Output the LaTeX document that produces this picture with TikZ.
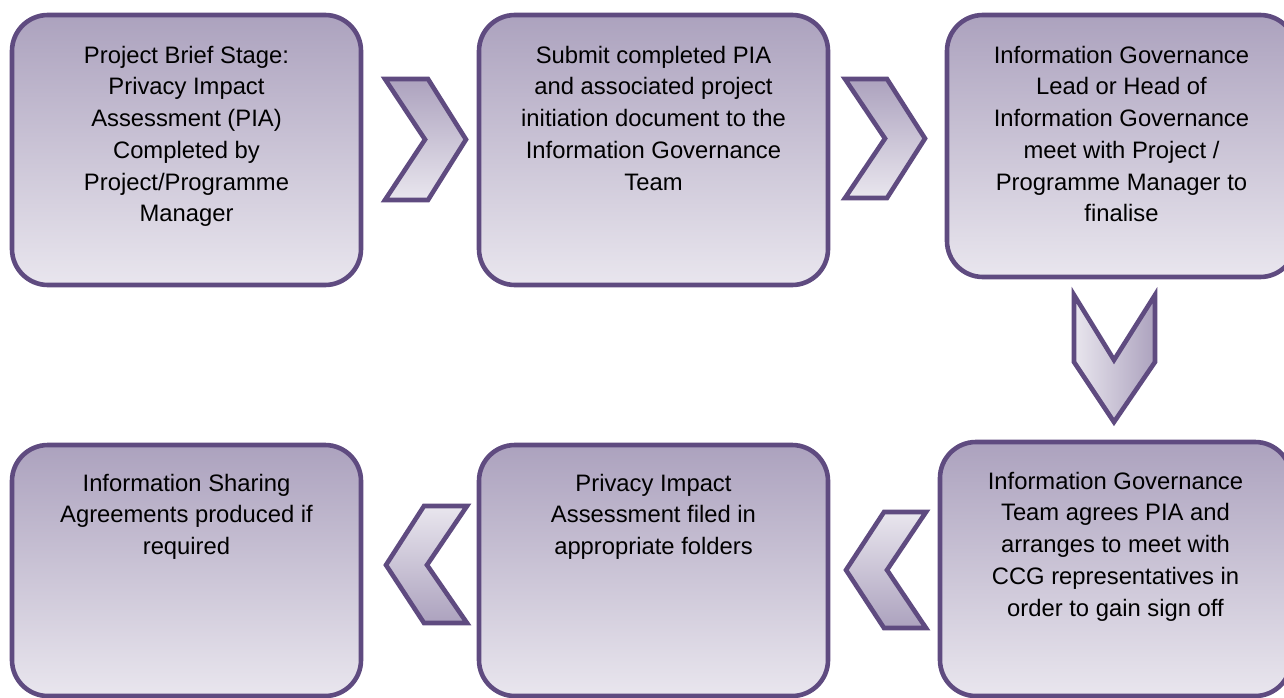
\documentclass[tikz,border=0pt]{standalone}
\usepackage{fontspec}
\setmainfont{Liberation Sans}
\definecolor{bord}{RGB}{95,75,128}
\definecolor{gdark}{RGB}{172,162,190}
\definecolor{glight}{RGB}{233,230,238}
\newcommand{\firststrut}{\rule{0pt}{18pt}}
\begin{document}
\begin{tikzpicture}[x=1pt,y=-1pt,
  box/.style={draw=bord, line width=4.6pt, rounded corners=36pt, top color=gdark, bottom color=glight,
              inner sep=0pt, outer sep=0pt, anchor=north west},
  chev/.style={draw=bord, line width=4.6pt, line join=miter},
  txt/.style={font=\fontsize{23.8}{31.7}\selectfont, align=center, anchor=north, inner sep=0pt, text=black}]
\useasboundingbox (0,0) rectangle (1284,698);
\clip (0,0) rectangle (1284,698);

% boxes
\node[box, minimum width=349pt, minimum height=270pt] (b1) at (12,15) {};
\node[box, minimum width=349pt, minimum height=270pt] (b2) at (479,15) {};
\node[box, minimum width=349pt, minimum height=262pt] (b3) at (947,15) {};
\node[box, minimum width=351pt, minimum height=254pt] (b4) at (940,442) {};
\node[box, minimum width=349pt, minimum height=251pt] (b5) at (479,445) {};
\node[box, minimum width=349pt, minimum height=251pt] (b6) at (12,445) {};

% texts
\node[txt] (t1) at ([yshift=-30pt]b1.north) {\firststrut Project Brief Stage:\\Privacy Impact\\Assessment (PIA)\\Completed by\\Project/Programme\\Manager};
\node[txt] (t2) at ([yshift=-30pt]b2.north) {\firststrut Submit completed PIA\\and associated project\\initiation document to the\\Information Governance\\Team};
\node[txt] (t3) at ([yshift=-30pt]b3.north) {\firststrut Information Governance\\Lead or Head of\\Information Governance\\meet with Project /\\Programme Manager to\\finalise};
\node[txt] (t4) at ([yshift=-29pt]b4.north) {\firststrut Information Governance\\Team agrees PIA and\\arranges to meet with\\CCG representatives in\\order to gain sign off};
\node[txt] (t5) at ([yshift=-28pt]b5.north) {\firststrut Privacy Impact\\Assessment filed in\\appropriate folders};
\node[txt] (t6) at ([yshift=-28pt]b6.north) {\firststrut Information Sharing\\Agreements produced if\\required};

% chevrons
\draw[chev, top color=gdark, bottom color=glight]
  (385,79) -- (428,79) -- (466,139.5) -- (428,200) -- (385,200) -- (425,139.5) -- cycle;
\draw[chev, top color=gdark, bottom color=glight]
  (845,79) -- (887,79) -- (925,138.5) -- (887,198) -- (845,198) -- (885,138.5) -- cycle;
\draw[chev, left color=glight, right color=gdark]
  (1074,295) -- (1114,360) -- (1155,295) -- (1155,362) -- (1114,422) -- (1074,362) -- cycle;
\draw[chev, top color=glight, bottom color=gdark]
  (467,506) -- (424,506) -- (386,565) -- (424,623) -- (467,623) -- (427,565) -- cycle;
\draw[chev, top color=glight, bottom color=gdark]
  (926,512) -- (884,512) -- (846,570) -- (884,628) -- (926,628) -- (887,570) -- cycle;
\end{tikzpicture}
\end{document}
